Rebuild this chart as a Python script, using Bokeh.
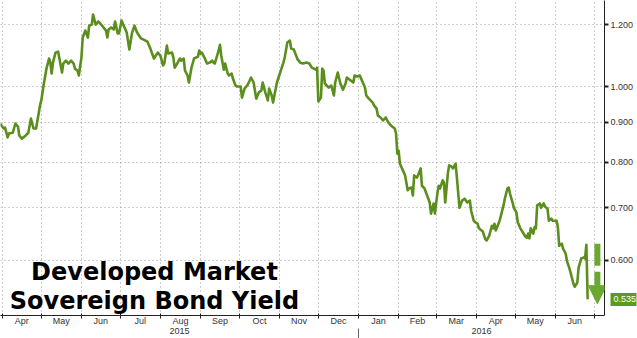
import pandas as pd
from bokeh.plotting import figure
from bokeh.models import (Range1d, FixedTicker, NumeralTickFormatter, LinearAxis,
                          Label, Arrow, NormalHead, ColumnDataSource)
from bokeh.embed import file_html
from bokeh.resources import INLINE

# ---------------- data ----------------
dates = [
    "2015-03-30", "2015-04-02", "2015-04-03", "2015-04-05", "2015-04-06", "2015-04-09", "2015-04-11", "2015-04-13",
    "2015-04-14", "2015-04-16", "2015-04-19", "2015-04-21", "2015-04-23", "2015-04-25", "2015-04-27", "2015-04-30",
    "2015-05-01", "2015-05-03", "2015-05-05", "2015-05-07", "2015-05-08", "2015-05-09", "2015-05-10", "2015-05-12",
    "2015-05-14", "2015-05-15", "2015-05-17", "2015-05-18", "2015-05-20", "2015-05-22", "2015-05-24", "2015-05-26",
    "2015-05-27", "2015-05-29", "2015-05-30",
    "2015-06-01", "2015-06-02", "2015-06-04", "2015-06-06", "2015-06-07", "2015-06-09", "2015-06-10", "2015-06-12",
    "2015-06-14", "2015-06-17", "2015-06-20", "2015-06-21", "2015-06-22", "2015-06-24", "2015-06-26", "2015-06-27",
    "2015-06-29", "2015-06-30",
    "2015-07-02", "2015-07-03", "2015-07-06", "2015-07-08", "2015-07-10", "2015-07-12", "2015-07-14", "2015-07-17",
    "2015-07-19", "2015-07-22", "2015-07-24", "2015-07-27", "2015-07-30",
    "2015-08-01", "2015-08-03", "2015-08-04", "2015-08-06", "2015-08-07", "2015-08-10", "2015-08-11", "2015-08-12",
    "2015-08-14", "2015-08-16", "2015-08-17", "2015-08-19", "2015-08-20", "2015-08-22", "2015-08-23", "2015-08-25",
    "2015-08-27", "2015-08-30", "2015-08-31",
    "2015-09-01", "2015-09-02", "2015-09-04", "2015-09-06", "2015-09-08", "2015-09-10", "2015-09-11", "2015-09-12",
    "2015-09-15", "2015-09-16", "2015-09-17", "2015-09-19", "2015-09-20", "2015-09-22", "2015-09-23", "2015-09-25",
    "2015-09-26", "2015-09-28", "2015-09-29",
    "2015-10-02", "2015-10-03", "2015-10-05", "2015-10-07", "2015-10-09", "2015-10-10", "2015-10-12", "2015-10-14",
    "2015-10-16", "2015-10-18", "2015-10-19", "2015-10-21", "2015-10-23", "2015-10-24", "2015-10-26", "2015-10-27",
    "2015-10-30", "2015-10-31",
    "2015-11-02", "2015-11-04", "2015-11-05", "2015-11-07", "2015-11-09", "2015-11-10", "2015-11-12", "2015-11-15",
    "2015-11-17", "2015-11-19", "2015-11-22", "2015-11-24", "2015-11-26", "2015-11-29", "2015-11-30",
    "2015-12-01", "2015-12-03", "2015-12-04", "2015-12-05", "2015-12-06", "2015-12-09", "2015-12-11", "2015-12-13",
    "2015-12-14", "2015-12-16", "2015-12-18", "2015-12-20", "2015-12-22", "2015-12-23", "2015-12-26", "2015-12-28",
    "2015-12-29", "2015-12-31",
    "2016-01-02", "2016-01-03", "2016-01-06", "2016-01-07", "2016-01-09", "2016-01-12", "2016-01-13", "2016-01-15",
    "2016-01-16", "2016-01-18", "2016-01-20", "2016-01-22", "2016-01-24", "2016-01-26", "2016-01-29", "2016-01-30",
    "2016-01-31",
    "2016-02-01", "2016-02-02", "2016-02-05", "2016-02-06", "2016-02-08", "2016-02-09", "2016-02-11", "2016-02-12",
    "2016-02-13", "2016-02-15", "2016-02-16", "2016-02-18", "2016-02-19", "2016-02-21", "2016-02-23", "2016-02-25",
    "2016-02-26", "2016-02-28", "2016-02-29",
    "2016-03-02", "2016-03-03", "2016-03-04", "2016-03-06", "2016-03-07", "2016-03-08", "2016-03-10", "2016-03-11",
    "2016-03-13", "2016-03-14", "2016-03-16", "2016-03-17", "2016-03-19", "2016-03-21", "2016-03-23", "2016-03-25",
    "2016-03-27", "2016-03-28", "2016-03-30", "2016-03-31",
    "2016-04-02", "2016-04-03", "2016-04-06", "2016-04-07", "2016-04-08", "2016-04-09", "2016-04-11", "2016-04-13",
    "2016-04-14", "2016-04-15", "2016-04-16", "2016-04-17", "2016-04-19", "2016-04-20", "2016-04-22", "2016-04-23",
    "2016-04-25", "2016-04-26", "2016-04-27", "2016-04-29", "2016-04-30",
    "2016-05-02", "2016-05-03", "2016-05-05", "2016-05-07", "2016-05-09", "2016-05-10", "2016-05-11", "2016-05-12",
    "2016-05-13", "2016-05-15", "2016-05-16", "2016-05-17", "2016-05-18", "2016-05-20", "2016-05-21", "2016-05-23",
    "2016-05-24", "2016-05-26", "2016-05-27", "2016-05-29", "2016-05-30",
    "2016-06-02", "2016-06-03", "2016-06-04", "2016-06-06", "2016-06-07", "2016-06-09", "2016-06-10", "2016-06-12",
    "2016-06-13", "2016-06-15", "2016-06-16", "2016-06-18", "2016-06-19", "2016-06-21", "2016-06-23", "2016-06-24",
    "2016-06-25", "2016-06-26",
]

yields = [
    0.897, 0.884, 0.886, 0.861, 0.871, 0.873, 0.897, 0.889, 0.866, 0.858, 0.866, 0.873, 0.910, 0.884, 0.884, 0.946,
    0.960, 1.009, 1.054, 1.086, 1.073, 1.039, 1.073, 1.105, 1.108, 1.086, 1.042, 1.070, 1.079, 1.070, 1.079, 1.070,
    1.054, 1.048, 1.033,
    1.089, 1.155, 1.179, 1.155, 1.196, 1.200, 1.236, 1.200, 1.211, 1.196, 1.179, 1.155, 1.183, 1.190, 1.183, 1.211,
    1.169, 1.169,
    1.214, 1.203, 1.172, 1.115, 1.169, 1.196, 1.172, 1.152, 1.148, 1.141, 1.121, 1.086, 1.105,
    1.095, 1.064, 1.070, 1.128, 1.102, 1.105, 1.089, 1.057, 1.070, 1.086, 1.079, 1.086, 1.048, 1.033, 1.012, 1.057,
    1.086, 1.092, 1.112,
    1.102, 1.105, 1.089, 1.070, 1.073, 1.079, 1.073, 1.070, 1.112, 1.131, 1.095, 1.051, 1.070, 1.039, 1.033, 1.039,
    1.024, 1.003, 1.000,
    1.000, 0.968, 0.994, 1.003, 1.018, 1.027, 1.012, 0.965, 0.983, 0.988, 1.012, 0.983, 0.960, 0.994, 0.974, 0.954,
    1.012, 1.024,
    1.048, 1.073, 1.089, 1.138, 1.145, 1.118, 1.115, 1.083, 1.073, 1.070, 1.073, 1.070, 1.057, 1.051, 1.057,
    0.957, 0.968, 1.054, 1.048, 1.009, 0.997, 1.003, 0.974, 1.012, 1.042, 1.009, 0.991, 1.009, 1.027, 1.018, 1.012,
    1.033, 1.030,
    1.033, 1.024, 0.997, 0.974, 0.965, 0.954, 0.946, 0.937, 0.918, 0.913, 0.905, 0.913, 0.900, 0.892, 0.884, 0.871,
    0.821,
    0.828, 0.797, 0.777, 0.770, 0.737, 0.741, 0.743, 0.726, 0.770, 0.765, 0.770, 0.786, 0.747, 0.741, 0.726, 0.711,
    0.688, 0.709, 0.688,
    0.732, 0.747, 0.741, 0.759, 0.754, 0.711, 0.774, 0.793, 0.790, 0.786, 0.797, 0.765, 0.700, 0.715, 0.719, 0.711,
    0.715, 0.694, 0.674, 0.671,
    0.668, 0.659, 0.653, 0.645, 0.638, 0.636, 0.645, 0.664, 0.659, 0.668, 0.655, 0.661, 0.674, 0.684, 0.705, 0.719,
    0.741, 0.743, 0.730, 0.711, 0.700,
    0.690, 0.671, 0.659, 0.651, 0.643, 0.641, 0.649, 0.640, 0.659, 0.649, 0.661, 0.659, 0.705, 0.709, 0.700, 0.709,
    0.703, 0.698, 0.674, 0.678, 0.674,
    0.674, 0.661, 0.626, 0.630, 0.621, 0.612, 0.599, 0.585, 0.577, 0.560, 0.555, 0.562, 0.587, 0.603, 0.605, 0.603,
    0.628, 0.535,
]

month_starts = [
    "2015-04-01", "2015-05-01", "2015-06-01", "2015-07-01", "2015-08-01", "2015-09-01", "2015-10-01", "2015-11-01",
    "2015-12-01", "2016-01-01", "2016-02-01", "2016-03-01", "2016-04-01", "2016-05-01", "2016-06-01", "2016-07-01",
]
month_labels = ["Apr", "May", "Jun", "Jul", "Aug", "Sep", "Oct", "Nov", "Dec",
                "Jan", "Feb", "Mar", "Apr", "May", "Jun"]
year_labels = ["2015", "2016"]
year_break = "2016-01-01"
y_ticks = [0.6, 0.7, 0.8, 0.9, 1.0, 1.2]
last_value = 0.535
title_lines = ["Developed Market", "Sovereign Bond Yield"]

# ---------------- helpers ----------------
def ms(s):
    return int(pd.Timestamp(s).value // 10**6)

x_start = pd.Timestamp("2015-03-30 12:00")
x_end = pd.Timestamp("2016-07-09 00:00")

source = ColumnDataSource(data=dict(date=pd.to_datetime(dates), value=yields))

p = figure(frame_width=604, frame_height=315, x_axis_type="datetime", y_axis_type="log",
           y_axis_location="right", output_backend="svg", toolbar_location=None,
           x_range=Range1d(x_start, x_end), y_range=Range1d(0.510, 1.288),
           min_border_left=0, min_border_top=0, min_border_right=33, min_border_bottom=23,
           title=None, background_fill_color="white", border_fill_color="white")
p.outline_line_color = None

line_color = "#5b8e1d"
tag_color = "#5c9c1c"
arrow_color = "#6aa832"
axis_color = "#222222"
label_color = "#333333"

# grids
start_ms = [ms(s) for s in month_starts]
p.xgrid.ticker = FixedTicker(ticks=start_ms)
for g in (p.xgrid, p.ygrid):
    g.grid_line_color = "#9a9a9a"
    g.grid_line_dash = "1 3"
    g.grid_line_width = 1

p.line("date", "value", source=source, line_color=line_color, line_width=2.6, line_join="round")

# right y axis
ya = p.yaxis[0]
ya.ticker = FixedTicker(ticks=y_ticks)
ya.formatter = NumeralTickFormatter(format="0.000")
ya.major_tick_out = 4
ya.major_tick_in = 0
ya.minor_tick_line_color = None
ya.axis_line_color = axis_color
ya.major_tick_line_color = axis_color
ya.major_tick_line_width = 2
ya.major_label_text_font = "Liberation Sans"
ya.major_label_text_font_size = "9px"
ya.major_label_text_color = label_color
ya.major_label_standoff = 2

# last-value tag drawn as a second right axis (thick inward tick = green box, white label)
tag_axis = LinearAxis(ticker=FixedTicker(ticks=[last_value]),
                      formatter=NumeralTickFormatter(format="0.000"),
                      axis_line_color=None, minor_tick_line_color=None,
                      major_tick_in=26, major_tick_out=0, major_tick_line_width=13,
                      major_tick_line_color=tag_color, major_tick_line_cap="butt",
                      major_label_standoff=-23, major_label_text_color="white",
                      major_label_text_font="Liberation Sans", major_label_text_font_size="9px")
p.add_layout(tag_axis, "right")

# bottom month axis
mid_ms = [int((start_ms[i] + start_ms[i + 1]) // 2) for i in range(len(month_labels))]
xa = p.xaxis[0]
xa.ticker = FixedTicker(ticks=mid_ms, minor_ticks=start_ms)
xa.major_label_overrides = {m: lab for m, lab in zip(mid_ms, month_labels)}
xa.major_tick_line_color = None
xa.major_tick_out = 0
xa.major_tick_in = 0
xa.minor_tick_in = 2
xa.minor_tick_out = 3
xa.minor_tick_line_color = axis_color
xa.axis_line_color = axis_color
xa.major_label_text_font = "Liberation Sans"
xa.major_label_text_font_size = "9px"
xa.major_label_text_color = label_color
xa.major_label_standoff = -3

# year axis
brk = ms(year_break)
year_mid = [int((ms(x_start) + brk) // 2), int((brk + ms(x_end)) // 2)]
yr = LinearAxis(ticker=FixedTicker(ticks=year_mid, minor_ticks=[brk]),
                major_label_overrides={m: lab for m, lab in zip(year_mid, year_labels)},
                axis_line_color=None, major_tick_line_color=None,
                major_tick_in=0, major_tick_out=0,
                minor_tick_in=0, minor_tick_out=10, minor_tick_line_color="#666666",
                major_label_standoff=-11,
                major_label_text_font="Liberation Sans", major_label_text_font_size="9px",
                major_label_text_color=label_color)
p.add_layout(yr, "below")

# title text in the chart
title_x = pd.Timestamp("2015-07-27 10:00")
for txt, yv in zip(title_lines, [0.579, 0.533]):
    p.add_layout(Label(x=title_x, y=yv, text=txt, text_align="center", text_baseline="alphabetic",
                       text_font="DejaVu Sans", text_font_style="bold", text_font_size="24px",
                       text_color="#000000"))

# arrow
arrow_x = pd.Timestamp("2016-07-03 12:00")
p.add_layout(Arrow(x_start=arrow_x, y_start=0.630, x_end=arrow_x, y_end=0.528,
                   line_color=arrow_color, line_width=6, line_dash="22 6",
                   end=NormalHead(size=18, fill_color=arrow_color, line_color=arrow_color)))

open("out.html", "w").write(file_html(p, INLINE))
